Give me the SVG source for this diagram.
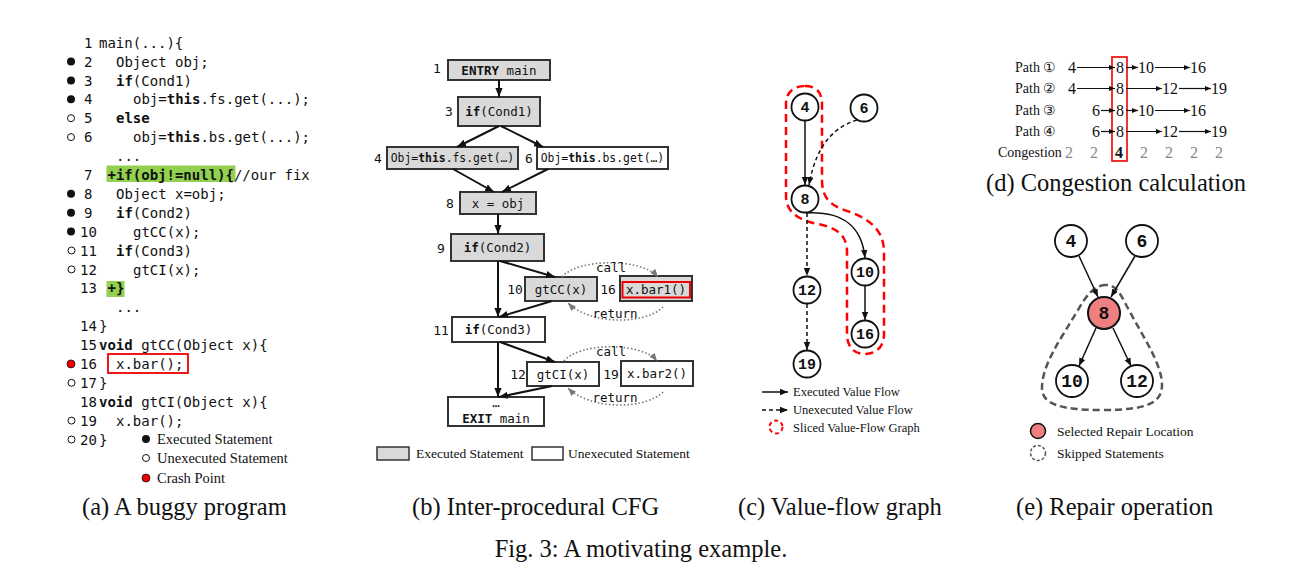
<svg xmlns="http://www.w3.org/2000/svg" width="1316" height="579" viewBox="0 0 1316 579">
<defs>
<style>
.code{font-family:"DejaVu Sans Mono","Liberation Mono",monospace;font-size:14px;fill:#111}
.b{font-weight:bold}
.bx{font-family:"DejaVu Sans Mono","Liberation Mono",monospace;font-size:12.5px;fill:#111}
.bs{font-family:"DejaVu Sans Mono","Liberation Mono",monospace;font-size:11.4px;fill:#111}
.num{font-family:"DejaVu Sans Mono","Liberation Mono",monospace;font-size:13px;fill:#111}
.ser{font-family:"Liberation Serif","DejaVu Serif",serif;fill:#111}
.cap{font-family:"Liberation Serif","DejaVu Serif",serif;font-size:24.5px;fill:#111}
.g{fill:#d9d9d9;stroke:#333;stroke-width:2}
.w{fill:#fff;stroke:#333;stroke-width:2}
.e{stroke:#111;stroke-width:2;fill:none}
.dot{stroke:#777;stroke-width:1.6;fill:none;stroke-dasharray:1.5 2.2}
.nd{fill:#fff;stroke:#111;stroke-width:1.8}
.nt{font-family:"Liberation Mono","DejaVu Sans Mono",monospace;font-weight:bold;fill:#111;text-anchor:middle}
.ve{stroke:#111;stroke-width:1.5;fill:none}
.vd{stroke:#111;stroke-width:1.5;fill:none;stroke-dasharray:4 3}
.pa{stroke:#111;stroke-width:1.2;fill:none}
.dg{fill:#888}
</style>
<marker id="ab" viewBox="0 0 10 10" refX="10" refY="5" markerWidth="9" markerHeight="9" orient="auto" markerUnits="userSpaceOnUse"><path d="M0,1 L10,5 L0,9 z" fill="#111"/></marker>
<marker id="ag" viewBox="0 0 10 10" refX="10" refY="5" markerWidth="8" markerHeight="8" orient="auto" markerUnits="userSpaceOnUse"><path d="M0,1 L10,5 L0,9 z" fill="#777"/></marker>
<marker id="as" viewBox="0 0 10 10" refX="10" refY="5" markerWidth="8" markerHeight="8" orient="auto" markerUnits="userSpaceOnUse"><path d="M0,1 L10,5 L0,9 z" fill="#111"/></marker>
<marker id="ad" viewBox="0 0 10 10" refX="10" refY="5" markerWidth="6" markerHeight="6" orient="auto" markerUnits="userSpaceOnUse"><path d="M0,1 L10,5 L0,9 z" fill="#111"/></marker>
</defs>
<rect width="1316" height="579" fill="#fff"/>

<!-- Panel (a) -->
<g id="panel-a">
<rect x="106.5" y="165.5" width="129" height="16.5" fill="#92d050"/>
<rect x="106.5" y="281" width="18" height="16" fill="#92d050"/>
<rect x="108" y="354" width="80" height="19" fill="none" stroke="#e00" stroke-width="1.8"/>
<g fill="#111">
<circle cx="71" cy="61.5" r="4"/><circle cx="71" cy="80.4" r="4"/><circle cx="71" cy="99.3" r="4"/>
<circle cx="71" cy="193.8" r="4"/><circle cx="71" cy="212.7" r="4"/><circle cx="71" cy="231.6" r="4"/>
</g>
<g fill="#fff" stroke="#111" stroke-width="1">
<circle cx="71" cy="118.2" r="3.5"/><circle cx="71" cy="137.1" r="3.5"/>
<circle cx="71.5" cy="250.5" r="3.5"/><circle cx="71.5" cy="269.4" r="3.5"/>
<circle cx="71.5" cy="382.8" r="3.5"/><circle cx="71.5" cy="420.6" r="3.5"/><circle cx="71.5" cy="439.5" r="3.5"/>
</g>
<circle cx="71" cy="363.9" r="4" fill="#e00" stroke="#111" stroke-width="0.8"/>
<g class="code">
<text x="84" y="47.7">1</text><text x="99" y="47.7">main(...){</text>
<text x="84" y="66.6">2</text><text x="116" y="66.6">Object obj;</text>
<text x="84" y="85.5">3</text><text x="116" y="85.5"><tspan class="b">if</tspan>(Cond1)</text>
<text x="84" y="104.4">4</text><text x="133" y="104.4">obj=<tspan class="b">this</tspan>.fs.get(...);</text>
<text x="84" y="123.3">5</text><text x="116" y="123.3" class="b">else</text>
<text x="84" y="142.2">6</text><text x="133" y="142.2">obj=<tspan class="b">this</tspan>.bs.get(...);</text>
<text x="116" y="161.1">...</text>
<text x="84" y="180">7</text><text x="107.5" y="180"><tspan class="b">+if(obj!=null){</tspan>//our fix</text>
<text x="84" y="198.9">8</text><text x="116" y="198.9">Object x=obj;</text>
<text x="84" y="217.8">9</text><text x="116" y="217.8"><tspan class="b">if</tspan>(Cond2)</text>
<text x="80" y="236.7">10</text><text x="133" y="236.7">gtCC(x);</text>
<text x="80" y="255.6">11</text><text x="116" y="255.6"><tspan class="b">if</tspan>(Cond3)</text>
<text x="80" y="274.5">12</text><text x="133" y="274.5">gtCI(x);</text>
<text x="80" y="293.4">13</text><text x="107.5" y="293.4" class="b">+}</text>
<text x="116" y="312.3">...</text>
<text x="80" y="331.2">14</text><text x="99" y="331.2">}</text>
<text x="80" y="350.1">15</text><text x="99" y="350.1"><tspan class="b">void</tspan> gtCC(Object x){</text>
<text x="80" y="369">16</text><text x="116" y="369">x.bar();</text>
<text x="80" y="387.9">17</text><text x="99" y="387.9">}</text>
<text x="80" y="406.8">18</text><text x="99" y="406.8"><tspan class="b">void</tspan> gtCI(Object x){</text>
<text x="80" y="425.7">19</text><text x="116" y="425.7">x.bar();</text>
<text x="80" y="444.6">20</text><text x="99" y="444.6">}</text>
</g>
<circle cx="146" cy="439" r="4" fill="#111"/>
<circle cx="146" cy="458" r="3.5" fill="#fff" stroke="#111" stroke-width="1"/>
<circle cx="146" cy="478" r="4" fill="#e00" stroke="#111" stroke-width="0.8"/>
<g class="ser" font-size="14.5">
<text x="157" y="444">Executed Statement</text>
<text x="157" y="463">Unexecuted Statement</text>
<text x="157" y="483">Crash Point</text>
</g>
<text class="cap" x="82" y="515">(a) A buggy program</text>
</g>

<!-- Panel (b) nodes -->
<g id="b-n1"><text class="num" x="437" y="72.5" text-anchor="middle">1</text><rect class="g" x="448" y="60" width="102" height="20"/><text class="bx" x="499" y="74.5" text-anchor="middle"><tspan class="b">ENTRY</tspan> main</text></g>
<g id="b-n3"><text class="num" x="449" y="116" text-anchor="middle">3</text><rect class="g" x="458" y="97" width="82" height="29"/><text class="bx" x="499" y="116" text-anchor="middle"><tspan class="b">if</tspan>(Cond1)</text></g>
<g id="b-n4"><text class="num" x="378" y="162.5" text-anchor="middle">4</text><rect class="g" x="387" y="147" width="131" height="22"/><text class="bs" x="452.5" y="162" text-anchor="middle">Obj=<tspan class="b">this</tspan>.fs.get(…)</text></g>
<g id="b-n6"><text class="num" x="529" y="162.5" text-anchor="middle">6</text><rect class="w" x="537" y="147" width="131" height="22"/><text class="bs" x="602.5" y="162" text-anchor="middle">Obj=<tspan class="b">this</tspan>.bs.get(…)</text></g>
<g id="b-n8"><text class="num" x="450" y="208" text-anchor="middle">8</text><rect class="g" x="460" y="192" width="76" height="22"/><text class="bx" x="498" y="207.5" text-anchor="middle">x = obj</text></g>
<g id="b-n9"><text class="num" x="441" y="252.5" text-anchor="middle">9</text><rect class="g" x="451" y="234" width="93" height="27"/><text class="bx" x="497.5" y="252" text-anchor="middle"><tspan class="b">if</tspan>(Cond2)</text></g>
<g id="b-n10"><text class="num" x="515" y="293.5" text-anchor="middle">10</text><rect class="g" x="525" y="277" width="72" height="24"/><text class="bx" x="561" y="293.5" text-anchor="middle">gtCC(x)</text></g>
<g id="b-n16"><text class="num" x="608" y="293.5" text-anchor="middle">16</text><rect class="g" x="620" y="276" width="72" height="25"/><rect x="622.5" y="282" width="67.5" height="15.5" fill="none" stroke="#e00" stroke-width="2"/><text class="bx" x="656" y="293.5" text-anchor="middle">x.bar1()</text></g>
<g id="b-n11"><text class="num" x="441" y="334.5" text-anchor="middle">11</text><rect class="w" x="452" y="317" width="93" height="25"/><text class="bx" x="498.5" y="334" text-anchor="middle"><tspan class="b">if</tspan>(Cond3)</text></g>
<g id="b-n12"><text class="num" x="518" y="378.5" text-anchor="middle">12</text><rect class="w" x="527" y="362" width="72" height="24"/><text class="bx" x="563" y="378.5" text-anchor="middle">gtCI(x)</text></g>
<g id="b-n19"><text class="num" x="611" y="378.5" text-anchor="middle">19</text><rect class="w" x="621" y="361" width="72" height="25"/><text class="bx" x="657" y="378" text-anchor="middle">x.bar2()</text></g>
<g id="b-exit"><rect class="w" x="448" y="397" width="96" height="29"/><text class="bx" x="496" y="407" text-anchor="middle">…</text><text class="bx" x="496" y="422.5" text-anchor="middle"><tspan class="b">EXIT</tspan> main</text></g>

<!-- Panel (b) connectors -->
<g id="b-edges">
<line class="e" x1="499" y1="80" x2="499" y2="97" marker-end="url(#ab)"/>
<line class="e" x1="499" y1="126" x2="457" y2="147" marker-end="url(#ab)"/>
<line class="e" x1="501" y1="126" x2="543" y2="147" marker-end="url(#ab)"/>
<line class="e" x1="453" y1="169" x2="494" y2="192" marker-end="url(#ab)"/>
<line class="e" x1="548" y1="169" x2="502" y2="192" marker-end="url(#ab)"/>
<line class="e" x1="498" y1="214" x2="498" y2="234" marker-end="url(#ab)"/>
<line class="e" x1="498" y1="261" x2="498" y2="317" marker-end="url(#ab)"/>
<line class="e" x1="500" y1="261" x2="555" y2="277" marker-end="url(#ab)"/>
<line class="e" x1="552" y1="301" x2="499" y2="317" marker-end="url(#ab)"/>
<line class="e" x1="498" y1="342" x2="498" y2="397" marker-end="url(#ab)"/>
<line class="e" x1="500" y1="342" x2="555" y2="362" marker-end="url(#ab)"/>
<line class="e" x1="552" y1="386" x2="499" y2="397" marker-end="url(#ab)"/>
<path class="dot" d="M562,277 C578,258 642,258 658,277" marker-end="url(#ag)"/>
<path class="dot" d="M663,307 C645,325 590,325 568,303" marker-end="url(#ag)"/>
<path class="dot" d="M564,361 C580,342 642,342 657,361" marker-end="url(#ag)"/>
<path class="dot" d="M663,392 C645,410 590,410 568,388" marker-end="url(#ag)"/>
<text class="bx" x="611" y="272" text-anchor="middle">call</text>
<text class="bx" x="615" y="317.5" text-anchor="middle">return</text>
<text class="bx" x="611" y="356" text-anchor="middle">call</text>
<text class="bx" x="615" y="401.5" text-anchor="middle">return</text>
</g>
<g id="b-legend">
<rect x="377" y="447" width="32" height="13" fill="#d9d9d9" stroke="#333" stroke-width="1.5"/>
<text class="ser" font-size="13.5" x="416" y="458">Executed Statement</text>
<rect x="532" y="447" width="31" height="13" fill="#fff" stroke="#333" stroke-width="1.5"/>
<text class="ser" font-size="13.5" x="568" y="458">Unexecuted Statement</text>
</g>
<text class="cap" x="412" y="515">(b) Inter-procedural CFG</text>

<!-- Panel (c) -->
<path id="c-slice" d="M805,86 C816,86 822,92 822,104 L822,180 C822,198 830,206 850,212 C872,220 884,232 884,252 L884,334 C884,348 875,354 865,354 C855,354 847,348 847,334 L847,252 C847,236 838,228 818,224 C798,220 786,212 786,196 L786,104 C786,92 794,86 805,86 Z" fill="none" stroke="#f00" stroke-width="2.5" stroke-dasharray="8 5"/>
<g id="c-edges">
<line class="ve" x1="805" y1="121" x2="805" y2="185" marker-end="url(#as)"/>
<path class="vd" d="M857,120 C838,126 817,140 809,185" marker-end="url(#as)"/>
<path class="ve" d="M806,213 C845,211 862,228 865,258" marker-end="url(#as)"/>
<line class="vd" x1="807" y1="213" x2="807" y2="276" marker-end="url(#as)"/>
<line class="ve" x1="865" y1="286" x2="865" y2="320" marker-end="url(#as)"/>
<line class="vd" x1="807" y1="304" x2="807" y2="350" marker-end="url(#as)"/>
</g>
<g id="c-n4"><circle class="nd" cx="805" cy="107" r="13.5"/><text class="nt" font-size="15" x="805" y="112">4</text></g>
<g id="c-n6"><circle class="nd" cx="864" cy="108" r="13.5"/><text class="nt" font-size="15" x="864" y="113">6</text></g>
<g id="c-n8"><circle class="nd" cx="805" cy="199" r="13.5"/><text class="nt" font-size="15" x="805" y="204">8</text></g>
<g id="c-n10"><circle class="nd" cx="865" cy="272" r="13.5"/><text class="nt" font-size="15" x="865" y="277">10</text></g>
<g id="c-n12"><circle class="nd" cx="807" cy="290" r="13.5"/><text class="nt" font-size="15" x="807" y="295">12</text></g>
<g id="c-n16"><circle class="nd" cx="865" cy="334" r="13.5"/><text class="nt" font-size="15" x="865" y="339">16</text></g>
<g id="c-n19"><circle class="nd" cx="807" cy="364" r="13.5"/><text class="nt" font-size="15" x="807" y="369">19</text></g>
<g id="c-legend">
<line class="ve" x1="762" y1="392" x2="788" y2="392" marker-end="url(#as)"/>
<line class="vd" x1="762" y1="410" x2="788" y2="410" marker-end="url(#as)"/>
<circle cx="776" cy="427" r="6.5" fill="none" stroke="#f00" stroke-width="2" stroke-dasharray="4 3"/>
<g class="ser" font-size="12.5">
<text x="793" y="396">Executed Value Flow</text>
<text x="793" y="414">Unexecuted Value Flow</text>
<text x="793" y="431.5">Sliced Value-Flow Graph</text>
</g>
</g>
<text class="cap" x="738" y="515">(c) Value-flow graph</text>

<!-- Panel (d) -->
<g id="panel-d">
<rect x="1112" y="57" width="15" height="104" fill="none" stroke="#e00" stroke-width="1.6"/>
<g class="ser" font-size="14">
<text x="1015" y="72">Path ①</text>
<text x="1015" y="93">Path ②</text>
<text x="1015" y="115">Path ③</text>
<text x="1015" y="136">Path ④</text>
<text x="998" y="157">Congestion</text>
</g>
<g class="ser" font-size="16">
<text x="1068" y="73">4</text><text x="1116" y="73">8</text><text x="1138" y="73">10</text><text x="1190" y="73">16</text>
<text x="1068" y="94">4</text><text x="1116" y="94">8</text><text x="1162" y="94">12</text><text x="1211" y="94">19</text>
<text x="1092" y="116">6</text><text x="1116" y="116">8</text><text x="1138" y="116">10</text><text x="1190" y="116">16</text>
<text x="1092" y="137">6</text><text x="1116" y="137">8</text><text x="1162" y="137">12</text><text x="1211" y="137">19</text>
<text x="1065" y="158" class="dg">2</text><text x="1090" y="158" class="dg">2</text><text x="1115" y="158" font-weight="bold">4</text><text x="1140" y="158" class="dg">2</text><text x="1165" y="158" class="dg">2</text><text x="1190" y="158" class="dg">2</text><text x="1215" y="158" class="dg">2</text>
</g>
<g id="d-arrows">
<line class="pa" x1="1077" y1="67.5" x2="1115" y2="67.5" marker-end="url(#ad)"/>
<line class="pa" x1="1126" y1="67.5" x2="1138" y2="67.5" marker-end="url(#ad)"/>
<line class="pa" x1="1155" y1="67.5" x2="1190" y2="67.5" marker-end="url(#ad)"/>
<line class="pa" x1="1077" y1="88.5" x2="1115" y2="88.5" marker-end="url(#ad)"/>
<line class="pa" x1="1126" y1="88.5" x2="1162" y2="88.5" marker-end="url(#ad)"/>
<line class="pa" x1="1179" y1="88.5" x2="1211" y2="88.5" marker-end="url(#ad)"/>
<line class="pa" x1="1101" y1="110.5" x2="1115" y2="110.5" marker-end="url(#ad)"/>
<line class="pa" x1="1126" y1="110.5" x2="1138" y2="110.5" marker-end="url(#ad)"/>
<line class="pa" x1="1155" y1="110.5" x2="1190" y2="110.5" marker-end="url(#ad)"/>
<line class="pa" x1="1101" y1="131.5" x2="1115" y2="131.5" marker-end="url(#ad)"/>
<line class="pa" x1="1126" y1="131.5" x2="1162" y2="131.5" marker-end="url(#ad)"/>
<line class="pa" x1="1179" y1="131.5" x2="1211" y2="131.5" marker-end="url(#ad)"/>
</g>
<text class="cap" x="986" y="191">(d) Congestion calculation</text>
</g>

<!-- Panel (e) -->
<path id="e-skip" d="M1106,285 C1094,285 1086,296 1078,310 C1060,340 1042,365 1042,388 C1042,404 1060,410 1102,410 C1145,410 1162,404 1162,385 C1162,365 1145,340 1130,312 C1122,298 1118,285 1106,285 Z" fill="none" stroke="#555" stroke-width="2.5" stroke-dasharray="7 4"/>
<g id="e-edges">
<line class="ve" x1="1079" y1="256" x2="1098" y2="297" marker-end="url(#as)"/>
<line class="ve" x1="1135" y1="256" x2="1111" y2="297" marker-end="url(#as)"/>
<line class="ve" x1="1096" y1="328" x2="1079" y2="366" marker-end="url(#as)"/>
<line class="ve" x1="1113" y1="328" x2="1131" y2="366" marker-end="url(#as)"/>
</g>
<g id="e-n4"><circle class="nd" cx="1071" cy="241" r="16" stroke-width="2"/><text class="nt" font-size="18" x="1071" y="247">4</text></g>
<g id="e-n6"><circle class="nd" cx="1142" cy="241" r="16" stroke-width="2"/><text class="nt" font-size="18" x="1142" y="247">6</text></g>
<g id="e-n8"><circle cx="1104" cy="313" r="16" fill="#f08080" stroke="#111" stroke-width="2"/><text class="nt" font-size="18" x="1104" y="319">8</text></g>
<g id="e-n10"><circle class="nd" cx="1072" cy="381" r="16" stroke-width="2"/><text class="nt" font-size="18" x="1072" y="387">10</text></g>
<g id="e-n12"><circle class="nd" cx="1137" cy="381" r="16" stroke-width="2"/><text class="nt" font-size="18" x="1137" y="387">12</text></g>
<g id="e-legend">
<circle cx="1038" cy="431" r="7.5" fill="#f08080" stroke="#111" stroke-width="1.5"/>
<circle cx="1038" cy="453" r="7.5" fill="none" stroke="#555" stroke-width="1.5" stroke-dasharray="3 2"/>
<g class="ser" font-size="13.5">
<text x="1057" y="436">Selected Repair Location</text>
<text x="1057" y="458">Skipped Statements</text>
</g>
</g>
<text class="cap" x="1016" y="515">(e) Repair operation</text>

<text class="cap" x="641" y="557" font-size="26.5" text-anchor="middle">Fig. 3: A motivating example.</text>
</svg>
